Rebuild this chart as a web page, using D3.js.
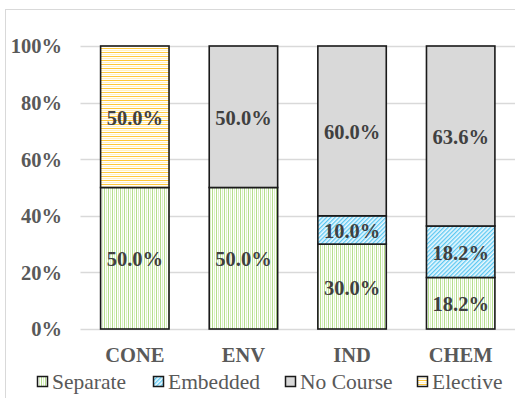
<!DOCTYPE html>
<html>
<head>
<meta charset="utf-8">
<script src="https://cdn.jsdelivr.net/npm/d3@7"></script>
<style>
  html, body { margin: 0; padding: 0; background: #fff; }
  svg { display: block; }
</style>
</head>
<body>
<script>
// Share of programs by course type, stacked to 100%
const categories = ["CONE", "ENV", "IND", "CHEM"];
const seriesNames = ["Separate", "Embedded", "No Course", "Elective"];
const separate  = [50.0, 50.0, 30.0, 18.2];
const embedded  = [0, 0, 10.0, 18.2];
const noCourse  = [0, 50.0, 60.0, 63.6];
const elective  = [50.0, 0, 0, 0];
const yTicks = [0, 20, 40, 60, 80, 100];
const yTickLabels = ["0%", "20%", "40%", "60%", "80%", "100%"];

const FONT = "Liberation Serif";
const W = 515, H = 398;
const margin = { left: 80.5, right: 0, top: 46, bottom: 69 };

const svg = d3.select("body").append("svg")
  .attr("width", W).attr("height", H)
  .attr("font-family", FONT);

// chart area frame
svg.append("rect")
  .attr("x", 5.5).attr("y", 9.5).attr("width", W + 10).attr("height", H + 10)
  .attr("fill", "#fff").attr("stroke", "#D9D9D9").attr("stroke-width", 1);

// fill patterns
const defs = svg.append("defs");

const pSep = defs.append("pattern").attr("id", "pat-separate")
  .attr("patternUnits", "userSpaceOnUse").attr("width", 4).attr("height", 4);
pSep.append("rect").attr("width", 4).attr("height", 4).attr("fill", "#fff");
pSep.append("rect").attr("x", 0).attr("width", 1).attr("height", 4).attr("fill", "#B5DE8C");
pSep.append("rect").attr("x", 2).attr("width", 1).attr("height", 4).attr("fill", "#DCF0C8");

const pEmb = defs.append("pattern").attr("id", "pat-embedded")
  .attr("patternUnits", "userSpaceOnUse").attr("width", 3).attr("height", 3)
  .attr("patternTransform", "rotate(45)");
pEmb.append("rect").attr("width", 3).attr("height", 3).attr("fill", "#EAF8FE");
pEmb.append("rect").attr("width", 1.3).attr("height", 3).attr("fill", "#5CC8F2");

const pEle = defs.append("pattern").attr("id", "pat-elective")
  .attr("patternUnits", "userSpaceOnUse").attr("width", 4).attr("height", 4);
pEle.append("rect").attr("width", 4).attr("height", 4).attr("fill", "#FFFFFF");
pEle.append("rect").attr("y", 0).attr("width", 4).attr("height", 1).attr("fill", "#FFC83A");
pEle.append("rect").attr("y", 2).attr("width", 4).attr("height", 1).attr("fill", "#FFF0C4");

const fills = {
  "Separate": "url(#pat-separate)",
  "Embedded": "url(#pat-embedded)",
  "No Course": "#D9D9D9",
  "Elective": "url(#pat-elective)"
};

const rows = categories.map((c, i) => ({
  category: c,
  "Separate": separate[i],
  "Embedded": embedded[i],
  "No Course": noCourse[i],
  "Elective": elective[i]
}));

const stack = d3.stack().keys(seriesNames);
const layers = stack(rows);

const x = d3.scaleBand().domain(categories)
  .range([margin.left, W - margin.right])
  .paddingInner(0.37).paddingOuter(0.185);
const y = d3.scaleLinear().domain([0, 100])
  .range([H - margin.bottom, margin.top]);

// gridlines
svg.append("g").selectAll("line").data(yTicks).join("line")
  .attr("x1", margin.left).attr("x2", W)
  .attr("y1", d => Math.round(y(d)) + 0.5).attr("y2", d => Math.round(y(d)) + 0.5)
  .attr("stroke", "#D9D9D9").attr("stroke-width", 1.3);

// y-axis tick labels
const yAxis = d3.axisLeft(y).tickValues(yTicks)
  .tickFormat((d, i) => yTickLabels[i]).tickSize(0).tickPadding(0);
const gy = svg.append("g").attr("transform", "translate(62,0)").call(yAxis)
  .attr("font-family", FONT);
gy.select(".domain").remove();
gy.selectAll("text")
  .attr("font-family", FONT)
  .attr("font-weight", "bold").attr("font-size", 20.5)
  .attr("fill", "#595959").attr("dy", "0.34em");

// stacked bars
const gBars = svg.append("g");
layers.forEach(layer => {
  gBars.append("g").selectAll("rect")
    .data(layer.filter(d => d[1] - d[0] > 0)).join("rect")
    .attr("x", d => x(d.data.category))
    .attr("y", d => y(d[1]))
    .attr("width", x.bandwidth())
    .attr("height", d => y(d[0]) - y(d[1]))
    .attr("fill", fills[layer.key])
    .attr("stroke", "#1a1a1a").attr("stroke-width", 1.6);
});

// value labels
const gLabels = svg.append("g");
layers.forEach(layer => {
  gLabels.append("g").selectAll("text")
    .data(layer.filter(d => d[1] - d[0] > 0)).join("text")
    .attr("x", d => x(d.data.category) + x.bandwidth() / 2)
    .attr("y", d => y((d[0] + d[1]) / 2) + 1)
    .attr("dy", "0.35em")
    .attr("text-anchor", "middle")
    .attr("font-family", FONT)
    .attr("font-weight", "bold").attr("font-size", 20.5)
    .attr("fill", "#404040")
    .text(d => (d[1] - d[0]).toFixed(1) + "%");
});

// category axis labels
const xAxis = d3.axisBottom(x).tickSize(0).tickPadding(0);
const gx = svg.append("g").attr("transform", "translate(0,355)").call(xAxis)
  .attr("font-family", FONT);
gx.select(".domain").remove();
gx.selectAll("text")
  .attr("font-family", FONT)
  .attr("font-weight", "bold").attr("font-size", 20.5)
  .attr("fill", "#595959").attr("dy", "0.35em");

// legend
const legendX = [37, 153, 285, 417];
const legend = svg.append("g");
seriesNames.forEach((name, i) => {
  const g = legend.append("g").attr("transform", `translate(${legendX[i]},376)`);
  g.append("rect").attr("x", 0.5).attr("y", 0.5).attr("width", 10).attr("height", 10)
    .attr("fill", fills[name]).attr("stroke", "#1a1a1a").attr("stroke-width", 1.5);
  g.append("text").attr("x", 15).attr("y", 5.5).attr("dy", "0.35em")
    .attr("font-family", FONT)
    .attr("font-size", 21.5).attr("fill", "#595959")
    .text(name);
});
</script>
</body>
</html>
